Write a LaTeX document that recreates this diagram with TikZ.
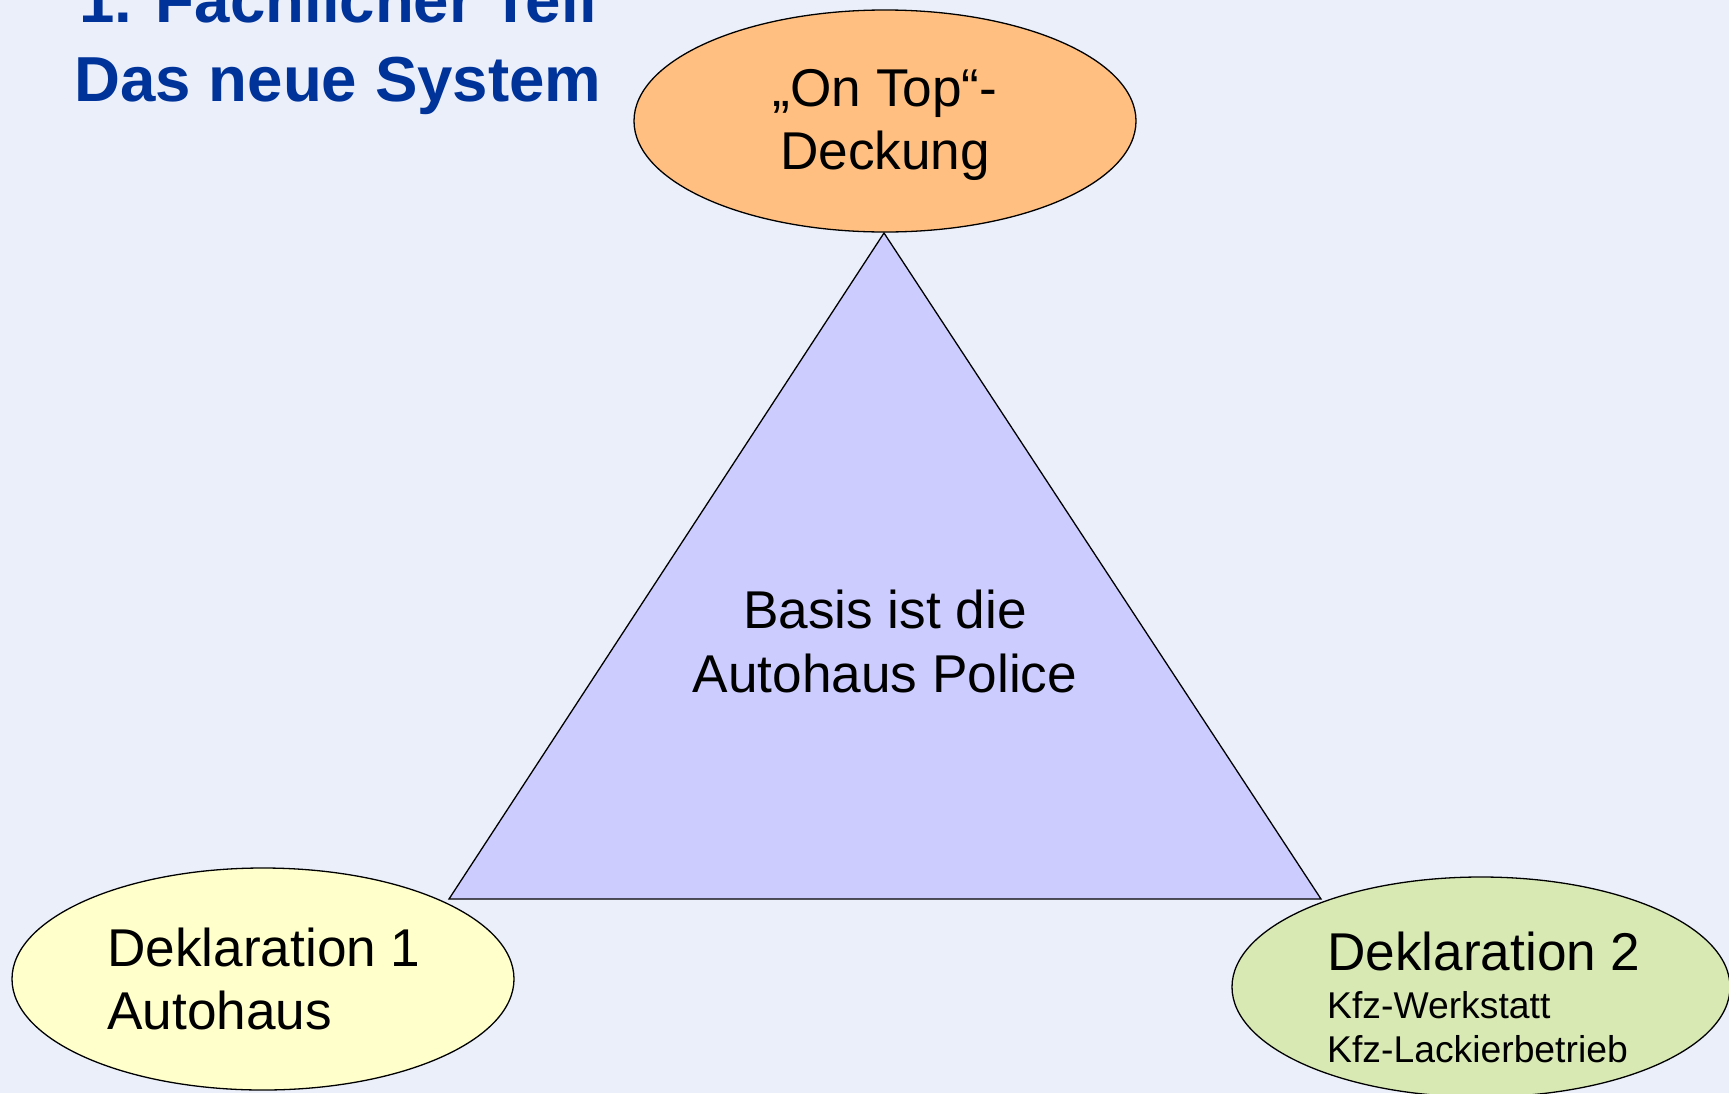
\documentclass[tikz,border=0pt]{standalone}
\usepackage{fontspec}
\setmainfont{Liberation Sans}
\usetikzlibrary{shapes.geometric}
\definecolor{bgcol}{RGB}{234,239,250}
\definecolor{titlecol}{RGB}{0,51,153}
\definecolor{orangefill}{RGB}{255,191,128}
\definecolor{trifill}{RGB}{204,204,255}
\definecolor{yellowfill}{RGB}{255,255,204}
\definecolor{greenfill}{RGB}{216,233,180}
\tikzset{
  oval/.style={ellipse, draw=black, line width=1.3pt, minimum width=502pt, minimum height=222pt, inner sep=0pt},
  bigtxt/.style={font=\fontsize{53.2}{64}\selectfont, inner sep=0pt, anchor=base},
  smalltxt/.style={font=\fontsize{37.3}{44}\selectfont, inner sep=0pt, anchor=base west},
  titletxt/.style={font=\fontsize{63.6}{79}\bfseries\selectfont, text=titlecol, inner sep=0pt, anchor=base}
}
\begin{document}
\begin{tikzpicture}[x=1pt,y=-1pt]
\useasboundingbox (0,0) rectangle (1729,1093);
\clip (0,0) rectangle (1729,1093);
\fill[bgcol] (0,0) rectangle (1729,1093);
% title
\node[titletxt] (t1) at (338,22) {1. Fachlicher Teil};
\node[titletxt] (t2) at (338,101) {Das neue System};
% triangle
\coordinate (apex) at (884,233);
\coordinate (bl) at (449,899);
\coordinate (br) at (1321,899);
\draw[fill=trifill, line width=1.3pt, line join=miter] (apex) -- (bl) -- (br) -- cycle;
\node[bigtxt] (b1) at (885,628) {Basis ist die};
\node[bigtxt] (b2) at (885,692) {Autohaus Police};
% ellipses
\node[oval, fill=orangefill] (top) at (885,121) {};
\node[bigtxt] (top1) at (885,106) {„On Top“-};
\node[bigtxt] (top2) at (885,169) {Deckung};
\node[oval, fill=yellowfill] (left) at (263,979) {};
\node[bigtxt, anchor=base west] (l1) at (107,966) {Deklaration 1};
\node[bigtxt, anchor=base west] (l2) at (107,1029) {Autohaus};
\node[oval, fill=greenfill, minimum width=498pt, minimum height=220pt] (right) at (1481,987) {};
\node[bigtxt, anchor=base west] (r1) at (1327,970) {Deklaration 2};
\node[smalltxt] (r2) at (1327,1018) {Kfz-Werkstatt};
\node[smalltxt] (r3) at (1327,1062) {Kfz-Lackierbetrieb};
\end{tikzpicture}
\end{document}
